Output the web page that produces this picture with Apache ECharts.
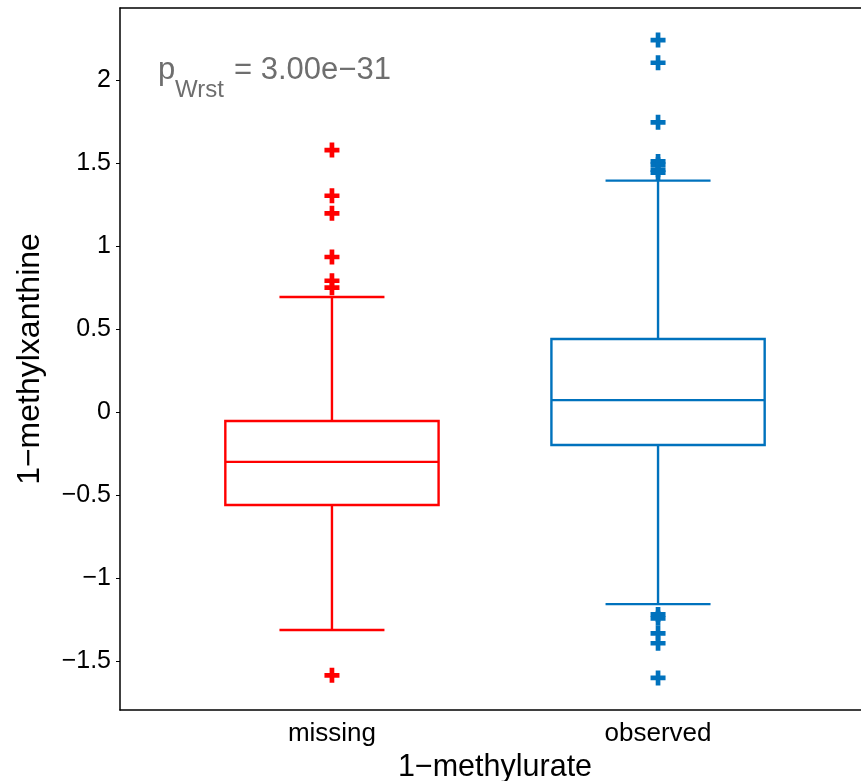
<!DOCTYPE html>
<html>
<head>
<meta charset="utf-8">
<script src="https://cdn.jsdelivr.net/npm/echarts@6/dist/echarts.min.js"></script>
<style>html,body{margin:0;padding:0;background:#fff;}#c{width:861px;height:781px;}</style>
</head>
<body>
<div id="c"></div>
<script>
// ---- data ----
const categories = ['missing', 'observed'];
// [lower whisker, Q1, median, Q3, upper whisker]
const missingStats = [-1.313, -0.56, -0.30, -0.054, 0.693];
const observedStats = [-1.157, -0.199, 0.072, 0.44, 1.394];
const missingOutliers = [1.578, 1.303, 1.197, 0.934, 0.791, 0.749, -1.586];
const observedOutliers = [2.241, 2.104, 1.745, 1.51, 1.49, 1.46, 1.442, -1.219, -1.243, -1.333, -1.393, -1.602];
const yTicks = [-1.5, -1, -0.5, 0, 0.5, 1, 1.5, 2];
const colors = ['#ff0000', '#0072bd'];

const FONT = '"Liberation Sans", Arial, sans-serif';
const fmt = v => String(v).replace('-', '\u2212');

const boxData = [[1].concat(missingStats), [2].concat(observedStats)];
const plus = 'path://M5.5,0H10.5V5.5H16V10.5H10.5V16H5.5V10.5H0V5.5H5.5Z';

const chart = echarts.init(document.getElementById('c'), null, {renderer: 'canvas'});
chart.setOption({
  animation: false,
  backgroundColor: '#fff',
  grid: {left: 120, top: 8, width: 750, bottom: 71, containLabel: false, outerBoundsMode: 'none'},
  xAxis: [{
    type: 'value', min: 0.35, max: 2.65, position: 'bottom',
    name: '1\u2212methylurate', nameLocation: 'middle', nameGap: 36,
    nameTextStyle: {fontFamily: FONT, fontSize: 30.5, color: '#000'},
    axisLine: {show: true, onZero: false, lineStyle: {color: '#000', width: 1.5}},
    axisTick: {show: false},
    splitLine: {show: false},
    axisLabel: {customValues: [1, 2], formatter: v => categories[Math.round(v) - 1],
      fontFamily: FONT, fontSize: 26, color: '#000', margin: 11}
  }, {
    type: 'value', min: 0.35, max: 2.65, position: 'top',
    axisLine: {show: true, onZero: false, lineStyle: {color: '#000', width: 1.5}},
    axisTick: {show: false}, axisLabel: {show: false}, splitLine: {show: false}
  }],
  yAxis: {
    type: 'value', min: -1.795, max: 2.434,
    name: '1\u2212methylxanthine', nameLocation: 'middle', nameGap: 74,
    nameTextStyle: {fontFamily: FONT, fontSize: 32, color: '#000'},
    axisLine: {show: true, onZero: false, lineStyle: {color: '#000', width: 1.5}},
    axisTick: {show: true, inside: false, length: 4, customValues: yTicks, lineStyle: {color: '#000', width: 1}},
    splitLine: {show: false},
    axisLabel: {customValues: yTicks, formatter: fmt, fontFamily: FONT, fontSize: 25, color: '#000', margin: 9}
  },
  series: [{
    type: 'custom',
    data: boxData,
    encode: {x: 0, y: [1, 2, 3, 4, 5]},
    renderItem: function (params, api) {
      const x = api.value(0);
      const lo = api.value(1), q1 = api.value(2), med = api.value(3), q3 = api.value(4), hi = api.value(5);
      const c = colors[params.dataIndex];
      const halfBox = api.size([0.327, 0])[0];
      const halfCap = api.size([0.161, 0])[0];
      const pLo = api.coord([x, lo]), pQ1 = api.coord([x, q1]), pMed = api.coord([x, med]),
            pQ3 = api.coord([x, q3]), pHi = api.coord([x, hi]);
      const cx = pMed[0];
      const st = {stroke: c, lineWidth: 2.4, fill: null};
      return {
        type: 'group',
        children: [
          {type: 'line', shape: {x1: cx, y1: pQ3[1], x2: cx, y2: pHi[1]}, style: st},
          {type: 'line', shape: {x1: cx, y1: pQ1[1], x2: cx, y2: pLo[1]}, style: st},
          {type: 'line', shape: {x1: cx - halfCap, y1: pHi[1], x2: cx + halfCap, y2: pHi[1]}, style: st},
          {type: 'line', shape: {x1: cx - halfCap, y1: pLo[1], x2: cx + halfCap, y2: pLo[1]}, style: st},
          {type: 'rect', shape: {x: cx - halfBox, y: pQ3[1], width: 2 * halfBox, height: pQ1[1] - pQ3[1]}, style: st},
          {type: 'line', shape: {x1: cx - halfBox, y1: pMed[1], x2: cx + halfBox, y2: pMed[1]}, style: st}
        ]
      };
    },
    z: 2
  }, {
    type: 'scatter',
    data: missingOutliers.map(v => [1, v]),
    symbol: plus, symbolSize: 15,
    itemStyle: {color: colors[0], opacity: 1},
    z: 3
  }, {
    type: 'scatter',
    data: observedOutliers.map(v => [2, v]),
    symbol: plus, symbolSize: 15,
    itemStyle: {color: colors[1], opacity: 1},
    z: 3
  }],
  graphic: [
    {type: 'text', left: 158, top: 55, style: {text: 'p', font: '31px ' + FONT, fill: '#6e6e6e'}},
    {type: 'text', left: 175, top: 78, style: {text: 'Wrst', font: '24px ' + FONT, fill: '#6e6e6e'}},
    {type: 'text', left: 234, top: 55, style: {text: '= 3.00e\u221231', font: '31px ' + FONT, fill: '#6e6e6e'}}
  ]
});
</script>
</body>
</html>
